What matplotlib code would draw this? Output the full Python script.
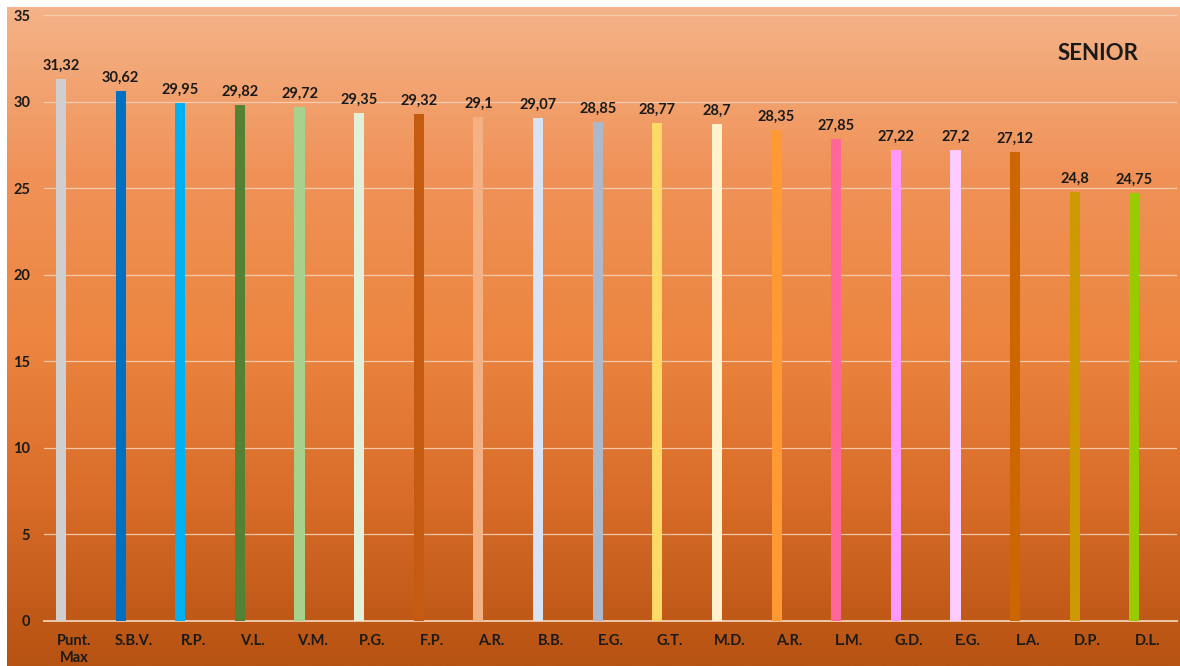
import numpy as np
import matplotlib.pyplot as plt
from matplotlib.colors import LinearSegmentedColormap

# ---------------------------------------------------------------------------
# Data
# ---------------------------------------------------------------------------
labels = ["Punt.\nMax", "S.B.V.", "R.P.", "V.L.", "V.M.", "P.G.", "F.P.",
          "A.R.", "B.B.", "E.G.", "G.T.", "M.D.", "A.R.", "L.M.", "G.D.",
          "E.G.", "L.A.", "D.P.", "D.L."]
values = [31.32, 30.62, 29.95, 29.82, 29.72, 29.35, 29.32, 29.1, 29.07,
          28.85, 28.77, 28.7, 28.35, 27.85, 27.22, 27.2, 27.12, 24.8, 24.75]
bar_colors = ["#D0CECE", "#0070C0", "#00B0F0", "#548235", "#A9D18E",
              "#E2F0D9", "#C55A11", "#F4B183", "#DAE3F3", "#ADB9CA",
              "#FFD966", "#FFF2CC", "#FF9933", "#FF6699", "#FF99FF",
              "#FFCCFF", "#CC6600", "#CC9900", "#99CC00"]
y_ticks = [0, 5, 10, 15, 20, 25, 30, 35]

plt.rcParams["font.family"] = ["Lato", "DejaVu Sans"]
TXT = "#1a1a1a"

W, H = 1180, 666
fig = plt.figure(figsize=(W / 100, H / 100), dpi=100)
fig.patch.set_facecolor("white")

# background gradient (full figure except thin white strip top/left)
bg = fig.add_axes([7 / W, 0, 1 - 7 / W, 1 - 7 / H])
grad = LinearSegmentedColormap.from_list(
    "bg", ["#F4B388", "#F09258", "#EC8640", "#D86C28", "#B65212"])
bg.imshow(np.linspace(0, 1, 256).reshape(-1, 1), aspect="auto", cmap=grad,
          extent=[0, 1, 0, 1], origin="upper")
bg.axis("off")

# plot axes
y0_px, y35_px = 620.7, 15.3
ax = fig.add_axes([44 / W, (H - y0_px) / H, (1177 - 44) / W,
                   (y0_px - y35_px) / H])
ax.patch.set_alpha(0)

x = np.arange(len(values))
xb = x - 0.215          # bars sit left of the category centre (Excel cluster)
ax.bar(xb, values, width=0.17, color=bar_colors, zorder=3)

for xi, v in zip(xb, values):
    ax.annotate(f"{v:g}".replace(".", ","), (xi, v), xytext=(0, 4.5),
                textcoords="offset points", ha="center", va="bottom",
                fontsize=10.5, fontweight="bold", color=TXT)

ax.set_xlim(-0.5, len(values) - 0.5)
ax.set_ylim(0, 35)
ax.set_yticks(y_ticks)
ax.set_yticklabels([str(t) for t in y_ticks], fontsize=10.5,
                   fontweight="bold", color=TXT)
ax.set_xticks(x)
ax.set_xticklabels(labels, fontsize=10.5, fontweight="bold", color=TXT,
                   linespacing=1.3, va="top")
ax.tick_params(axis="both", length=0)
ax.tick_params(axis="y", pad=10)
ax.tick_params(axis="x", pad=9.5)

ax.grid(axis="y", color="#F6D2B8", linewidth=0.9, alpha=0.9, zorder=0)
for s in ["top", "right", "left"]:
    ax.spines[s].set_visible(False)
ax.spines["bottom"].set_color("#F0C8A8")
ax.spines["bottom"].set_linewidth(1.4)

ax.text(17.18, 32.8, "SENIOR", ha="center", va="center", fontsize=16,
        fontweight="bold", color=TXT)

fig.savefig("out.png", dpi=100)
